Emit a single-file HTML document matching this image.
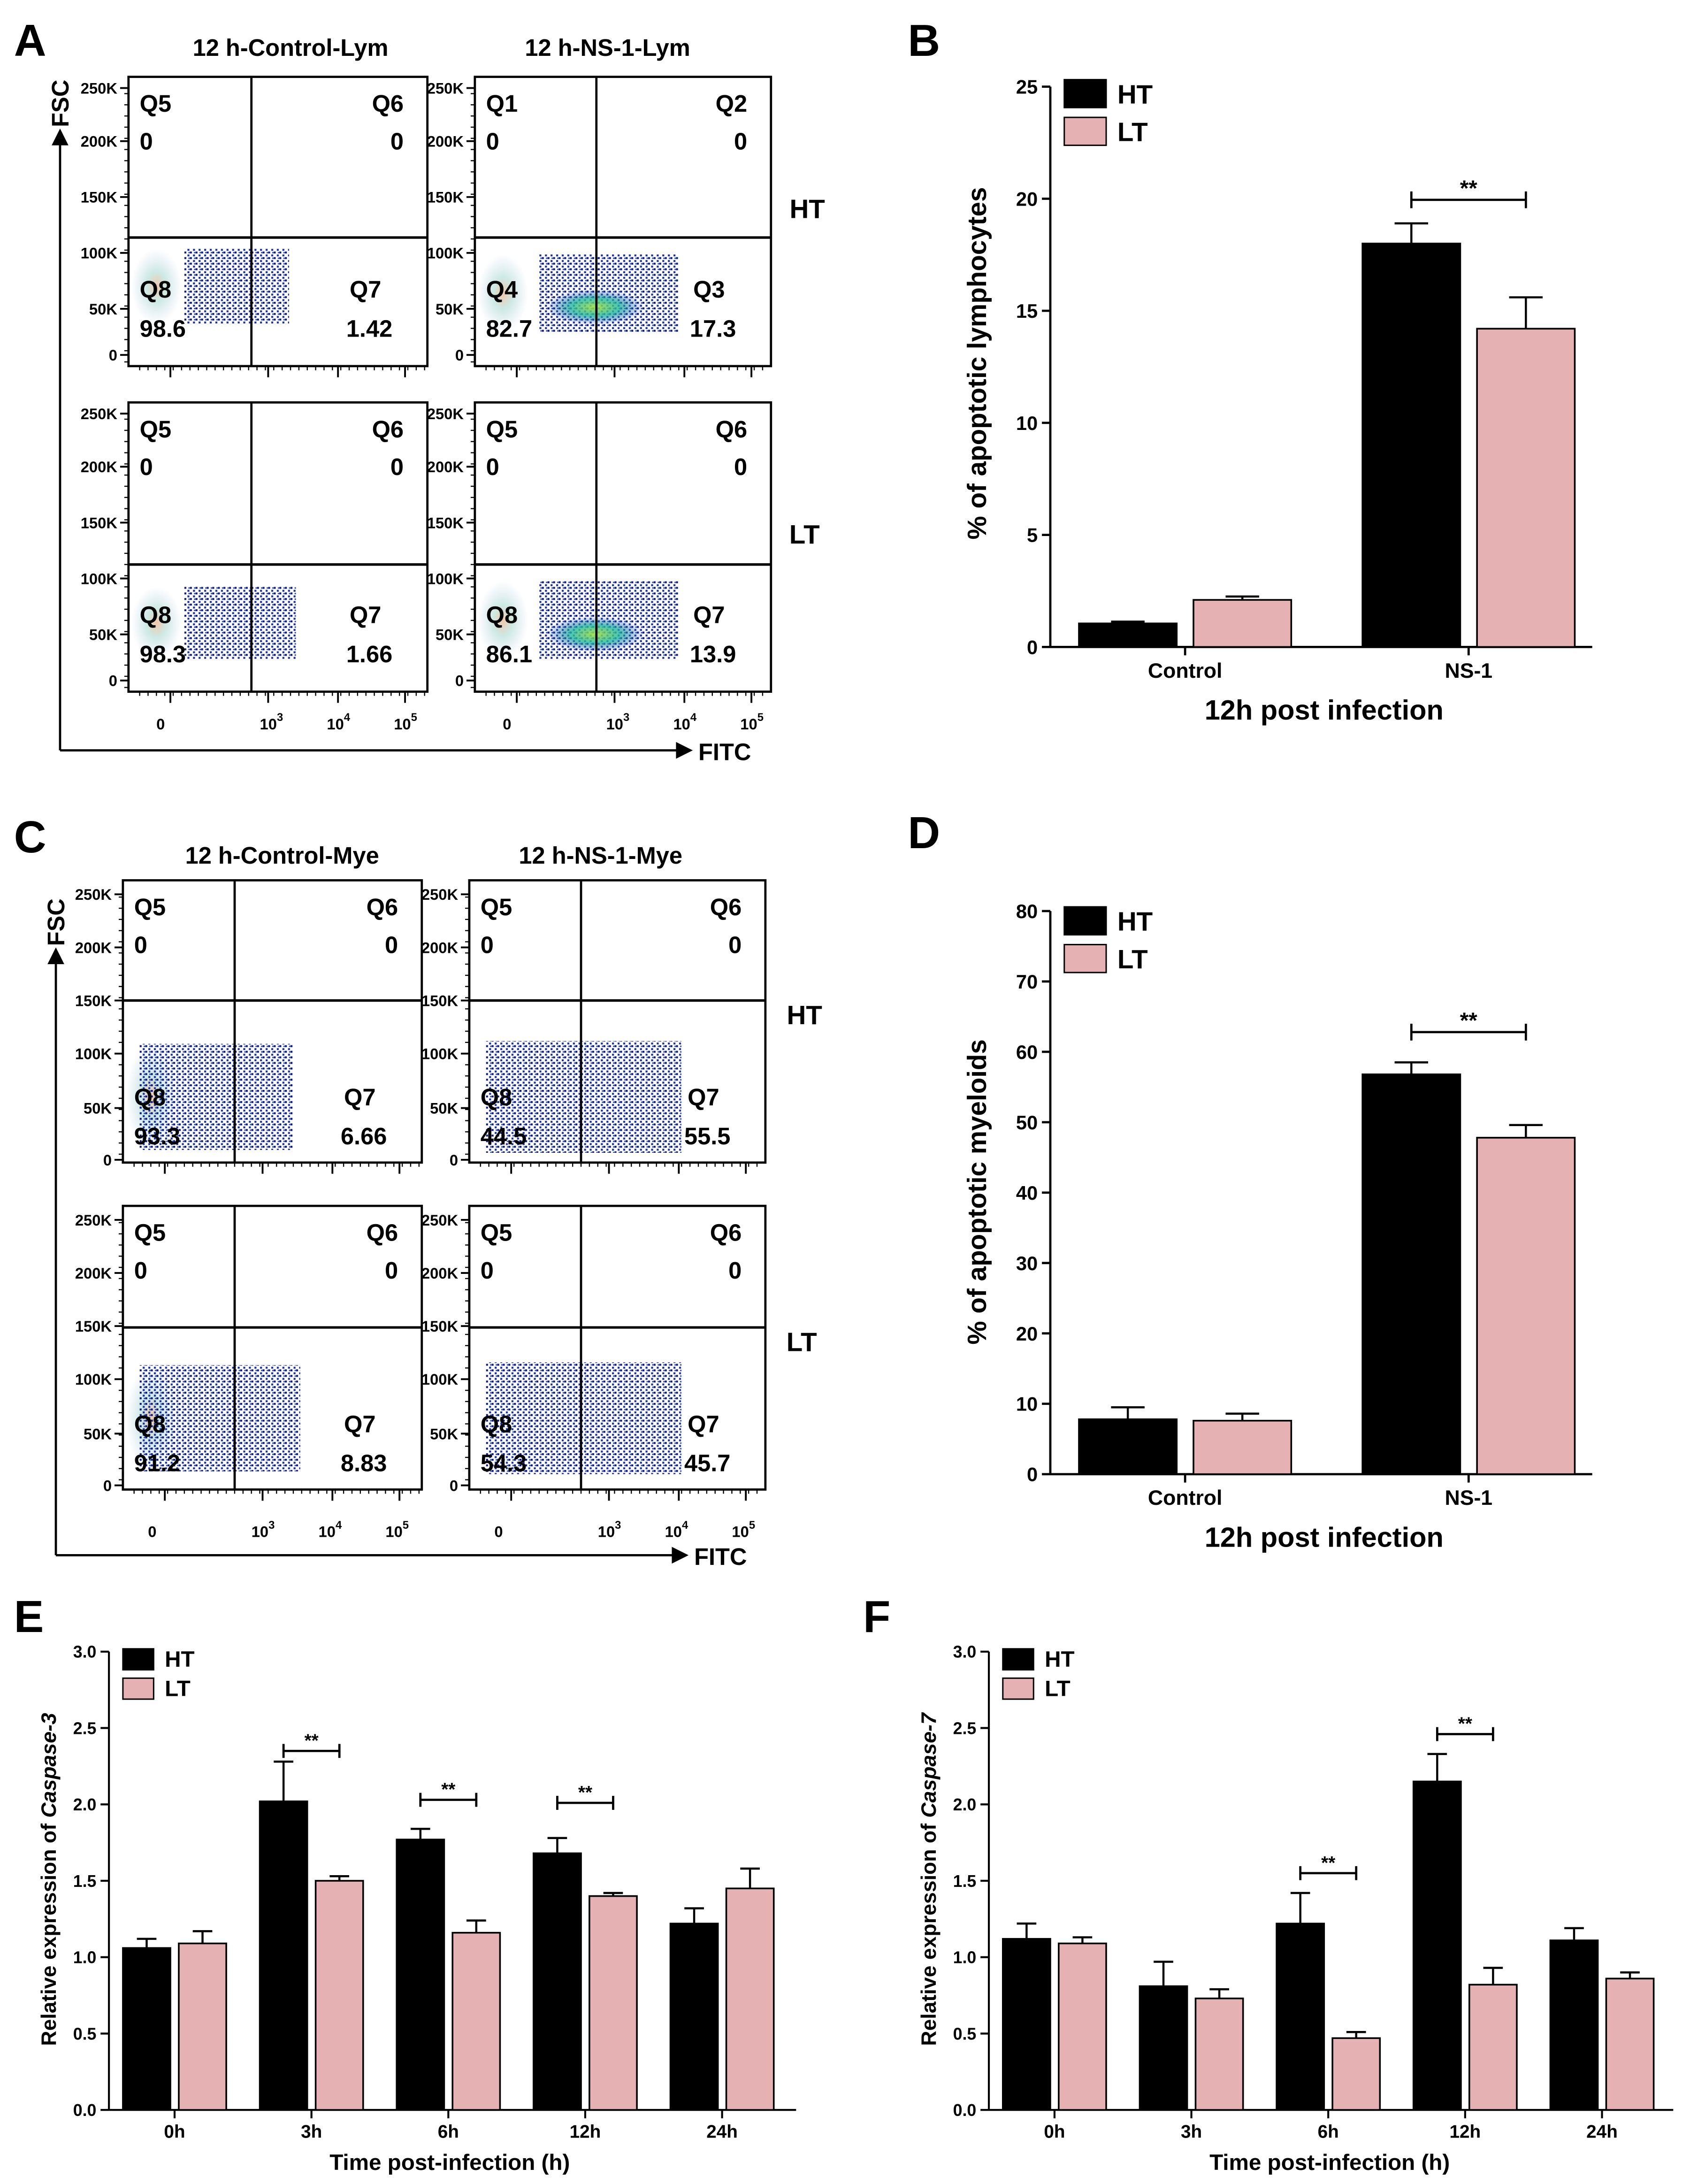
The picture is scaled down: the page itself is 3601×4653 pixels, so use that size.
<!DOCTYPE html>
<html><head><meta charset="utf-8">
<style>
html,body{margin:0;padding:0;background:#fff;}
svg{display:block;}
text{font-family:"Liberation Sans",Arial,sans-serif;font-weight:bold;fill:#000;}
</style></head>
<body>
<svg id="fig" xmlns="http://www.w3.org/2000/svg" width="3601" height="4653" viewBox="0 0 1210 1563" preserveAspectRatio="none">
<defs>
<radialGradient id="blob" cx="50%" cy="50%" r="50%">
<stop offset="0" stop-color="#f2c0a0" stop-opacity="0.9"/>
<stop offset="0.4" stop-color="#b8e0d8" stop-opacity="0.7"/>
<stop offset="1" stop-color="#c8d8f0" stop-opacity="0"/>
</radialGradient>
<radialGradient id="green" cx="50%" cy="50%" r="50%">
<stop offset="0" stop-color="#a0e040" stop-opacity="0.9"/>
<stop offset="0.5" stop-color="#20b8a0" stop-opacity="0.8"/>
<stop offset="1" stop-color="#1030a0" stop-opacity="0"/>
</radialGradient>
<pattern id="dots" width="4" height="4" patternUnits="userSpaceOnUse">
<rect x="0" y="0" width="1.4" height="1.4" fill="#0a1a80"/>
<rect x="2.2" y="2.1" width="1.4" height="1.4" fill="#1a30a0"/>
<rect x="2.9" y="0.3" width="1" height="1" fill="#2a48b8"/>
</pattern>
</defs>
<g id="root"></g>
</svg>
<script>
// ---- Panel B data ----
const bCategories = ["Control", "NS-1"];
const bHT = [1.05, 18.0];
const bHTerr = [0.08, 0.9];
const bLT = [2.1, 14.2];
const bLTerr = [0.15, 1.4];
const bTicks = [0, 5, 10, 15, 20, 25];
// ---- Panel D data ----
const dCategories = ["Control", "NS-1"];
const dHT = [7.8, 56.8];
const dHTerr = [1.7, 1.7];
const dLT = [7.6, 47.8];
const dLTerr = [1.0, 1.8];
const dTicks = [0, 10, 20, 30, 40, 50, 60, 70, 80];
// ---- Panel E data ----
const eCategories = ["0h", "3h", "6h", "12h", "24h"];
const eHT = [1.06, 2.02, 1.77, 1.68, 1.22];
const eHTerr = [0.06, 0.26, 0.07, 0.1, 0.1];
const eLT = [1.09, 1.50, 1.16, 1.40, 1.45];
const eLTerr = [0.08, 0.03, 0.08, 0.02, 0.13];
const eSig = [null, 2.35, 2.03, 2.01, null];
// ---- Panel F data ----
const fCategories = ["0h", "3h", "6h", "12h", "24h"];
const fHT = [1.12, 0.81, 1.22, 2.15, 1.11];
const fHTerr = [0.1, 0.16, 0.2, 0.18, 0.08];
const fLT = [1.09, 0.73, 0.47, 0.82, 0.86];
const fLTerr = [0.04, 0.06, 0.04, 0.11, 0.04];
const fSig = [null, null, 1.55, 2.46, null];
const expTicks = [0.0, 0.5, 1.0, 1.5, 2.0, 2.5, 3.0];

const NS = "http://www.w3.org/2000/svg";
const root = document.getElementById("root");
function el(tag, attrs, parent, txt) {
  const e = document.createElementNS(NS, tag);
  for (const k in attrs) e.setAttribute(k, attrs[k]);
  if (txt !== undefined) e.textContent = txt;
  (parent || root).appendChild(e);
  return e;
}
const PINK = "#e5b1b2";

function barChart(name, o) {
  const g = el("g", {});
  
  
  const y = v => o.y0 - (v - o.min) / (o.max - o.min) * (o.y0 - o.ytop);
  const ya = el("line", {x1: o.x0, y1: o.y0, x2: o.x0, y2: o.ytop, stroke: "#000", "stroke-width": o.axw}, g);
  
  
  o.ticks.forEach(t => {
    el("line", {x1: o.x0 - 6, x2: o.x0, y1: y(t), y2: y(t), stroke: "#000", "stroke-width": o.axw}, g);
    const tl = el("text", {x: o.x0 - 9, y: y(t) + o.tf * 0.36, "text-anchor": "end", "font-size": o.tf}, g, o.fmt(t));
    
    
  });
  const xa = el("line", {x1: o.x0, y1: o.y0, x2: o.xend, y2: o.y0, stroke: "#000", "stroke-width": o.axw}, g);
  
  
  o.cats.forEach((c, i) => {
    const cx = o.cx(i);
    el("line", {x1: cx, x2: cx, y1: o.y0, y2: o.y0 + 6, stroke: "#000", "stroke-width": o.axw}, g);
    const xl = el("text", {x: cx, y: o.y0 + o.xlOff, "text-anchor": "middle", "font-size": o.xf}, g, c);
    
    
    [[o.ht, o.hte, "#000", -1], [o.lt, o.lte, PINK, 1]].forEach(([vals, errs, col, side]) => {
      const x1 = side < 0 ? cx - o.gap - o.bw : cx + o.gap;
      const xm = x1 + o.bw / 2;
      const top = y(vals[i]), et = y(vals[i] + errs[i]);
      el("line", {x1: xm, x2: xm, y1: top, y2: et, stroke: "#000", "stroke-width": 1.5}, g);
      el("line", {x1: xm - o.cap, x2: xm + o.cap, y1: et, y2: et, stroke: "#000", "stroke-width": 1.5}, g);
      const b = el("rect", {x: x1, y: top, width: o.bw, height: o.y0 - top, fill: col, stroke: "#000", "stroke-width": 1.2}, g);
      
      
    });
    if (o.sig && o.sig[i] != null) {
      const sy = y(o.sig[i]);
      const xa1 = cx - o.gap - o.bw / 2, xa2 = cx + o.gap + o.bw / 2;
      const br = el("g", {}, g);
      
      
      el("line", {x1: xa1, x2: xa2, y1: sy, y2: sy, stroke: "#000", "stroke-width": 1.6}, br);
      el("line", {x1: xa1, x2: xa1, y1: sy - o.sigTick, y2: sy + o.sigTick, stroke: "#000", "stroke-width": 1.6}, br);
      el("line", {x1: xa2, x2: xa2, y1: sy - o.sigTick, y2: sy + o.sigTick, stroke: "#000", "stroke-width": 1.6}, br);
      el("text", {x: cx, y: sy - 3, "text-anchor": "middle", "font-size": o.sigF}, br, "**");
    }
  });
  const lg = el("g", {}, g);
  
  
  [["HT", "#000"], ["LT", PINK]].forEach((l, k) => {
    const ly = o.legY + k * o.legDy;
    el("rect", {x: o.legX, y: ly, width: o.legW, height: o.legH, fill: l[1], stroke: "#000", "stroke-width": 1}, lg);
    el("text", {x: o.legX + o.legW + 8, y: ly + o.legH * 0.85, "font-size": o.legF}, lg, l[0]);
  });
  const xt = el("text", {x: o.xtX, y: o.xtY, "text-anchor": "middle", "font-size": o.xtF}, g, o.xtitle);
  
  
  const yt = el("text", {x: 0, y: 0, "text-anchor": "middle", "font-size": o.ytF, transform: `translate(${o.ytX},${o.ytY}) rotate(-90)`}, g);
  
  
  o.ytitle.forEach(p => { el("tspan", p[1] ? {"font-style": "italic"} : {}, yt, p[0]); });
}

const two = {axw: 1.6, tf: 14, xf: 15, fmt: t => String(t), bw: 70, gap: 6, cap: 12, xlOff: 22, sigTick: 6, sigF: 16,
  legX: 762, legW: 30, legH: 20, legDy: 27, legF: 19, xtF: 20, ytF: 19};
barChart("panel-b-chart", Object.assign({}, two, {
  x0: 752, xend: 1140, y0: 463, ytop: 62, min: 0, max: 25, ticks: bTicks, cats: bCategories,
  cx: i => 848.5 + i * 203, ht: bHT, hte: bHTerr, lt: bLT, lte: bLTerr, sig: [null, 19.95],
  legY: 57, xtX: 948, xtY: 515, xtitle: "12h post infection", ytX: 706, ytY: 260,
  ytitle: [["% of apoptotic lymphocytes", false]]}));
barChart("panel-d-chart", Object.assign({}, two, {
  x0: 752, xend: 1140, y0: 1055, ytop: 652, min: 0, max: 80, ticks: dTicks, cats: dCategories,
  cx: i => 848.5 + i * 203, ht: dHT, hte: dHTerr, lt: dLT, lte: dLTerr, sig: [null, 62.8],
  legY: 649, xtX: 948, xtY: 1107, xtitle: "12h post infection", ytX: 706, ytY: 853,
  ytitle: [["% of apoptotic myeloids", false]]}));
const small = {axw: 1.4, tf: 12, xf: 13, fmt: t => t.toFixed(1), bw: 34, gap: 3, cap: 7, xlOff: 20, sigTick: 5, sigF: 13,
  legW: 22, legH: 15, legDy: 21, legF: 16, xtF: 16, ytF: 15, min: 0, max: 3, ticks: expTicks, y0: 1510, ytop: 1182};
barChart("panel-e-chart", Object.assign({}, small, {
  x0: 78, xend: 570, cats: eCategories, cx: i => 125 + i * 98,
  ht: eHT, hte: eHTerr, lt: eLT, lte: eLTerr, sig: eSig, legX: 88, legY: 1180,
  xtX: 322, xtY: 1553, xtitle: "Time post-infection (h)", ytX: 40, ytY: 1345,
  ytitle: [["Relative expression of ", false], ["Caspase-3", true]]}));
barChart("panel-f-chart", Object.assign({}, small, {
  x0: 708, xend: 1198, cats: fCategories, cx: i => 755 + i * 98,
  ht: fHT, hte: fHTerr, lt: fLT, lte: fLTerr, sig: fSig, legX: 718, legY: 1180,
  xtX: 952, xtY: 1553, xtitle: "Time post-infection (h)", ytX: 670, ytY: 1345,
  ytitle: [["Relative expression of ", false], ["Caspase-7", true]]}));

function flowPlot(name, bx, by, bw, bh, gateY, gateX, labels, yTicks, cloud) {
  const g = el("g", {});
  
  
  const lowY = by + bh;
  if (cloud.blob) el("ellipse", {cx: bx + 20, cy: cloud.cy, rx: 18, ry: cloud.ry, fill: "url(#blob)"}, g);
  el("rect", {x: bx + cloud.x1, y: cloud.cy - cloud.ry, width: cloud.w, height: cloud.ry * 2, fill: "url(#dots)", opacity: 1}, g);
  if (cloud.green) el("ellipse", {cx: bx + cloud.x1 + cloud.w * 0.4, cy: cloud.cy + cloud.ry * 0.35, rx: cloud.w * 0.35, ry: cloud.ry * 0.45, fill: "url(#green)"}, g);
  el("rect", {x: bx, y: by, width: bw, height: bh, fill: "none", stroke: "#000", "stroke-width": 1.6}, g);
  el("line", {x1: bx, x2: bx + bw, y1: gateY, y2: gateY, stroke: "#000", "stroke-width": 1.8}, g);
  el("line", {x1: gateX, x2: gateX, y1: by, y2: by + bh, stroke: "#000", "stroke-width": 1.6}, g);
  yTicks.forEach(t => {
    el("line", {x1: bx - 6, x2: bx, y1: t[1], y2: t[1], stroke: "#000", "stroke-width": 1.3}, g);
    if (t[0]) el("text", {x: bx - 8, y: t[1] + 4, "text-anchor": "end", "font-size": 11}, g, t[0]);
  });
  for (let yy = by + 12; yy < by + bh; yy += 8) el("line", {x1: bx - 3, x2: bx, y1: yy, y2: yy, stroke: "#000", "stroke-width": 0.8}, g);
  for (let xx = bx + 8; xx < bx + bw; xx += 6) el("line", {x1: xx, x2: xx, y1: lowY, y2: lowY + 3, stroke: "#000", "stroke-width": 0.8}, g);
  [bx + 30, bx + 100, bx + 150, bx + 198].forEach(xx => el("line", {x1: xx, x2: xx, y1: lowY, y2: lowY + 8, stroke: "#000", "stroke-width": 1.3}, g));
  const f = 17;
  el("text", {x: bx + 8, y: by + 25, "font-size": f}, g, labels[0]);
  el("text", {x: bx + 8, y: by + 52, "font-size": f}, g, labels[1]);
  el("text", {x: bx + bw - 17, y: by + 25, "text-anchor": "end", "font-size": f}, g, labels[2]);
  el("text", {x: bx + bw - 17, y: by + 52, "text-anchor": "end", "font-size": f}, g, labels[3]);
  el("text", {x: bx + 8, y: cloud.qy, "font-size": f}, g, labels[4]);
  el("text", {x: bx + 8, y: cloud.qy + 28, "font-size": f}, g, labels[5]);
  el("text", {x: bx + bw - 33, y: cloud.qy, "text-anchor": "end", "font-size": f}, g, labels[6]);
  el("text", {x: bx + bw - 25, y: cloud.qy + 28, "text-anchor": "end", "font-size": f}, g, labels[7]);
}
function ticksA(by) { return [["250K", by + 8], ["200K", by + 46], ["150K", by + 86], ["100K", by + 126], ["50K", by + 166], ["0", by + 199]]; }
function ticksC(by) { return [["250K", by + 10], ["200K", by + 48], ["150K", by + 86], ["100K", by + 124], ["50K", by + 163], ["0", by + 200]]; }
flowPlot("flow-control-lym-ht", 92, 55, 214, 207, 170, 180, ["Q5","0","Q6","0","Q8","98.6","Q7","1.42"], ticksA(55), {blob:1, x1: 40, w: 75, cy: 205, ry: 27, qy: 213});
flowPlot("flow-ns1-lym-ht", 340, 55, 212, 207, 170, 427, ["Q1","0","Q2","0","Q4","82.7","Q3","17.3"], ticksA(55), {blob:1, x1: 46, w: 100, cy: 210, ry: 28, qy: 213, green:1});
flowPlot("flow-control-lym-lt", 92, 288, 214, 207, 404, 180, ["Q5","0","Q6","0","Q8","98.3","Q7","1.66"], ticksA(288), {blob:1, x1: 40, w: 80, cy: 446, ry: 26, qy: 446});
flowPlot("flow-ns1-lym-lt", 340, 288, 212, 207, 404, 427, ["Q5","0","Q6","0","Q8","86.1","Q7","13.9"], ticksA(288), {blob:1, x1: 46, w: 100, cy: 444, ry: 28, qy: 446, green:1});
flowPlot("flow-control-mye-ht", 88, 630, 214, 202, 716, 168, ["Q5","0","Q6","0","Q8","93.3","Q7","6.66"], ticksC(630), {blob:1, x1: 12, w: 110, cy: 785, ry: 38, qy: 791});
flowPlot("flow-ns1-mye-ht", 336, 630, 212, 202, 716, 416, ["Q5","0","Q6","0","Q8","44.5","Q7","55.5"], ticksC(630), {blob:0, x1: 12, w: 140, cy: 785, ry: 40, qy: 791});
flowPlot("flow-control-mye-lt", 88, 863, 214, 203, 950, 168, ["Q5","0","Q6","0","Q8","91.2","Q7","8.83"], ticksC(863), {blob:1, x1: 12, w: 115, cy: 1015, ry: 38, qy: 1025});
flowPlot("flow-ns1-mye-lt", 336, 863, 212, 203, 950, 416, ["Q5","0","Q6","0","Q8","54.3","Q7","45.7"], ticksC(863), {blob:0, x1: 12, w: 140, cy: 1015, ry: 40, qy: 1025});

function flowX(y, xs) {
  xs.forEach(x0 => {
    el("text", {x: x0 + 23, y: y, "text-anchor": "middle", "font-size": 11}, root, "0");
    [["3", 100], ["4", 148], ["5", 196]].forEach(p => {
      const t = el("text", {x: x0 + p[1] - 6, y: y, "font-size": 11}, root, "10");
      el("tspan", {dy: -6, "font-size": 8}, t, p[0]);
    });
  });
}
flowX(522, [92, 340]);
flowX(1100, [86, 334]);

function arrows(name, x, y0, ytop, xend) {
  const g = el("g", {});
  
  
  el("line", {x1: x, y1: y0, x2: x, y2: ytop + 10, stroke: "#000", "stroke-width": 1.6}, g);
  el("polygon", {points: `${x-6},${ytop+12} ${x+6},${ytop+12} ${x},${ytop}`, fill: "#000"}, g);
  el("line", {x1: x, y1: y0, x2: xend - 10, y2: y0, stroke: "#000", "stroke-width": 1.6}, g);
  el("polygon", {points: `${xend-12},${y0-6} ${xend-12},${y0+6} ${xend},${y0}`, fill: "#000"}, g);
  el("text", {x: 0, y: 0, "font-size": 17, "text-anchor": "middle", transform: `translate(${x+6},${ytop-18}) rotate(-90)`}, g, "FSC");
  el("text", {x: xend + 4, y: y0 + 7, "font-size": 17}, g, "FITC");
}
arrows("panel-a-axes", 43, 537, 92, 496);
arrows("panel-c-axes", 40, 1113, 678, 493);

[["12 h-Control-Lym", 208, 40], ["12 h-NS-1-Lym", 435, 40], ["12 h-Control-Mye", 202, 618], ["12 h-NS-1-Mye", 430, 618]].forEach(t => {
  const e = el("text", {x: t[1], y: t[2], "text-anchor": "middle", "font-size": 17}, root, t[0]);
  
  
});
[["HT", 578, 156], ["LT", 576, 389], ["HT", 576, 733], ["LT", 574, 967]].forEach(t => {
  const e = el("text", {x: t[1], y: t[2], "text-anchor": "middle", "font-size": 19}, root, t[0]);
  
  
});
[["A", 10, 40], ["B", 650, 40], ["C", 10, 610], ["D", 650, 607], ["E", 10, 1168], ["F", 618, 1168]].forEach(t => {
  const e = el("text", {x: t[1], y: t[2], "font-size": 32}, root, t[0]);
  
  
});
</script>
</body></html>
